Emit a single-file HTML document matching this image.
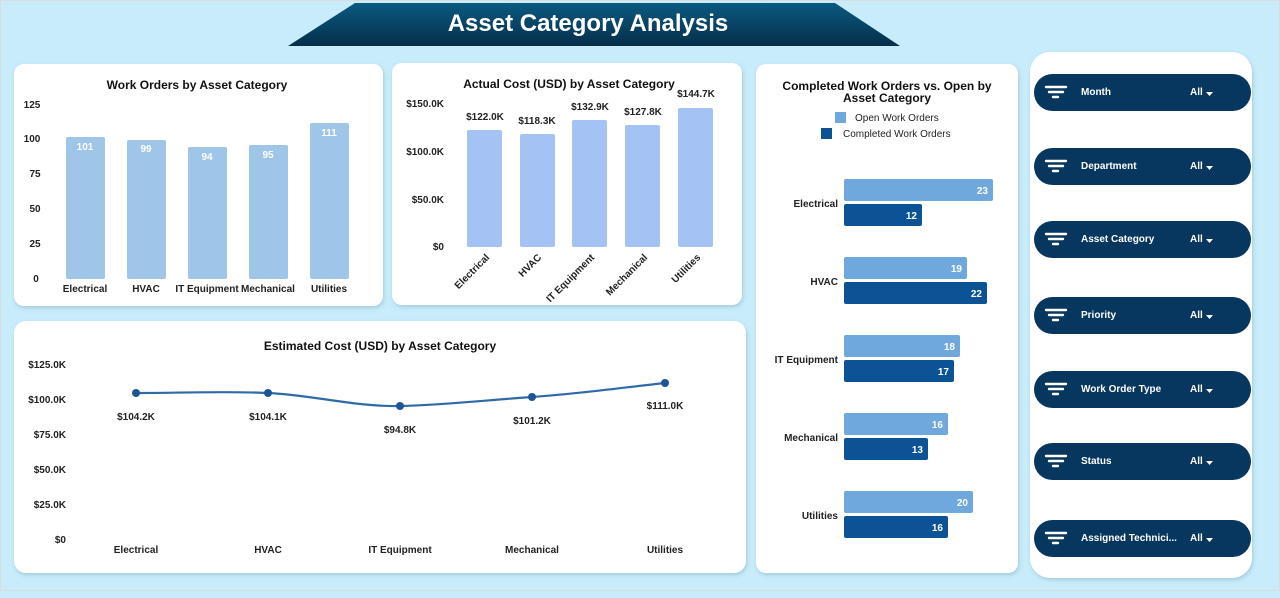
<!DOCTYPE html>
<html><head><meta charset="utf-8"><style>
html,body{margin:0;padding:0;width:1280px;height:598px;overflow:hidden;background:#c8ecfa;}
svg{display:block;font-family:"Liberation Sans",Arial,sans-serif;}
</style></head><body>
<svg width="1280" height="598" viewBox="0 0 1280 598" xmlns="http://www.w3.org/2000/svg">
<defs>
<linearGradient id="tg" x1="0" y1="0" x2="0" y2="1"><stop offset="0" stop-color="#0b5a80"/><stop offset="1" stop-color="#052f4a"/></linearGradient>
<filter id="sh" x="-5%" y="-5%" width="110%" height="110%"><feDropShadow dx="1" dy="2" stdDeviation="2" flood-color="#7fa9bd" flood-opacity="0.5"/></filter>
</defs>
<rect x="0" y="0" width="1280" height="598" fill="#c8ecfa"/>
<rect x="0.5" y="0.5" width="1279" height="590" fill="none" stroke="#d9dde0"/>
<polygon points="355,3 835,3 900,46 288,46" fill="url(#tg)"/>
<text x="588" y="31" text-anchor="middle" font-size="24" font-weight="bold" fill="#fff">Asset Category Analysis</text>

<g filter="url(#sh)" fill="#fff">
<rect x="14" y="64" width="369" height="242" rx="10"/>
<rect x="392" y="63" width="350" height="242" rx="10"/>
<rect x="14" y="321" width="732" height="252" rx="12"/>
<rect x="756" y="64" width="262" height="509" rx="10"/>
<rect x="1030" y="52" width="222" height="526" rx="20"/>
</g>

<!-- Card1 -->
<text x="197" y="89" text-anchor="middle" font-size="12" font-weight="bold" fill="#111">Work Orders by Asset Category</text>
<g font-size="10" font-weight="bold" fill="#222" text-anchor="middle">
<text x="32" y="108">125</text><text x="32" y="142">100</text><text x="35" y="177">75</text><text x="35" y="212">50</text><text x="35" y="247">25</text><text x="36" y="282">0</text>
</g>
<g fill="#9fc5e8">
<rect x="66" y="137" width="39" height="142" rx="2"/>
<rect x="127" y="140" width="39" height="139" rx="2"/>
<rect x="188" y="147" width="39" height="132" rx="2"/>
<rect x="249" y="145" width="39" height="134" rx="2"/>
<rect x="310" y="123" width="39" height="156" rx="2"/>
</g>
<g font-size="10" font-weight="bold" fill="#fff" text-anchor="middle">
<text x="85" y="150">101</text><text x="146" y="152">99</text><text x="207" y="160">94</text><text x="268" y="158">95</text><text x="329" y="136">111</text>
</g>
<g font-size="10" font-weight="bold" fill="#222" text-anchor="middle">
<text x="85" y="292">Electrical</text><text x="146" y="292">HVAC</text><text x="207" y="292">IT Equipment</text><text x="268" y="292">Mechanical</text><text x="329" y="292">Utilities</text>
</g>

<!-- Card2 -->
<text x="569" y="88" text-anchor="middle" font-size="12" font-weight="bold" fill="#111">Actual Cost (USD) by Asset Category</text>
<g font-size="10" font-weight="bold" fill="#222" text-anchor="end">
<text x="444" y="107">$150.0K</text><text x="444" y="155">$100.0K</text><text x="444" y="203">$50.0K</text><text x="444" y="250">$0</text>
</g>
<g fill="#a4c2f4">
<rect x="467" y="130" width="35" height="117" rx="2"/>
<rect x="520" y="134" width="35" height="113" rx="2"/>
<rect x="572" y="120" width="35" height="127" rx="2"/>
<rect x="625" y="125" width="35" height="122" rx="2"/>
<rect x="678" y="108" width="35" height="139" rx="2"/>
</g>
<g font-size="10" font-weight="bold" fill="#222" text-anchor="middle">
<text x="485" y="120">$122.0K</text><text x="537" y="124">$118.3K</text><text x="590" y="110">$132.9K</text><text x="643" y="115">$127.8K</text><text x="696" y="97">$144.7K</text>
</g>
<g font-size="10" font-weight="bold" fill="#222" text-anchor="end">
<text transform="translate(490,258) rotate(-45)">Electrical</text>
<text transform="translate(542,258) rotate(-45)">HVAC</text>
<text transform="translate(595,258) rotate(-45)">IT Equipment</text>
<text transform="translate(648,258) rotate(-45)">Mechanical</text>
<text transform="translate(701,258) rotate(-45)">Utilities</text>
</g>

<!-- Card3 -->
<text x="380" y="350" text-anchor="middle" font-size="12" font-weight="bold" fill="#111">Estimated Cost (USD) by Asset Category</text>
<g font-size="10" font-weight="bold" fill="#222" text-anchor="end">
<text x="66" y="368">$125.0K</text><text x="66" y="403">$100.0K</text><text x="66" y="438">$75.0K</text><text x="66" y="473">$50.0K</text><text x="66" y="508">$25.0K</text><text x="66" y="543">$0</text>
</g>
<path d="M136,393 C180,393 224,391 268,393 C312,395 356,407 400,406 C444,405 488,400 532,397 C576,394 620,388 665,383" fill="none" stroke="#2f6aa8" stroke-width="2.2"/>
<g fill="#1f5496">
<circle cx="136" cy="393" r="4"/><circle cx="268" cy="393" r="4"/><circle cx="400" cy="406" r="4"/><circle cx="532" cy="397" r="4"/><circle cx="665" cy="383" r="4"/>
</g>
<g font-size="10" font-weight="bold" fill="#222" text-anchor="middle">
<text x="136" y="420">$104.2K</text><text x="268" y="420">$104.1K</text><text x="400" y="433">$94.8K</text><text x="532" y="424">$101.2K</text><text x="665" y="409">$111.0K</text>
<text x="136" y="553">Electrical</text><text x="268" y="553">HVAC</text><text x="400" y="553">IT Equipment</text><text x="532" y="553">Mechanical</text><text x="665" y="553">Utilities</text>
</g>

<!-- Card4 -->
<g font-size="12" font-weight="bold" fill="#111" text-anchor="middle">
<text x="887" y="90">Completed Work Orders vs. Open by</text><text x="887" y="102">Asset Category</text>
</g>
<rect x="835" y="112" width="11" height="11" fill="#6fa8dc"/>
<rect x="821" y="128" width="11" height="11" fill="#0b5394"/>
<g font-size="10" fill="#222"><text x="855" y="121">Open Work Orders</text><text x="843" y="137">Completed Work Orders</text></g>
<g fill="#6fa8dc">
<rect x="844" y="179" width="149" height="22" rx="2"/>
<rect x="844" y="257" width="123" height="22" rx="2"/>
<rect x="844" y="335" width="116" height="22" rx="2"/>
<rect x="844" y="413" width="104" height="22" rx="2"/>
<rect x="844" y="491" width="129" height="22" rx="2"/>
</g>
<g fill="#0b5394">
<rect x="844" y="204" width="78" height="22" rx="2"/>
<rect x="844" y="282" width="143" height="22" rx="2"/>
<rect x="844" y="360" width="110" height="22" rx="2"/>
<rect x="844" y="438" width="84" height="22" rx="2"/>
<rect x="844" y="516" width="104" height="22" rx="2"/>
</g>
<g font-size="10" font-weight="bold" fill="#fff" text-anchor="end">
<text x="988" y="194">23</text><text x="917" y="219">12</text>
<text x="962" y="272">19</text><text x="982" y="297">22</text>
<text x="955" y="350">18</text><text x="949" y="375">17</text>
<text x="943" y="428">16</text><text x="923" y="453">13</text>
<text x="968" y="506">20</text><text x="943" y="531">16</text>
</g>
<g font-size="10" font-weight="bold" fill="#222" text-anchor="end">
<text x="838" y="207">Electrical</text><text x="838" y="285">HVAC</text><text x="838" y="363">IT Equipment</text><text x="838" y="441">Mechanical</text><text x="838" y="519">Utilities</text>
</g>

<!-- Slicers -->
<g font-size="10" font-weight="bold" fill="#fff">
<g transform="translate(0,92)"><rect x="1034" y="-18" width="217" height="37" rx="18.5" fill="#07365e"/><path d="M1046,-5H1066M1049,0H1063M1053,5H1058" stroke="#fff" stroke-width="2.4" stroke-linecap="round"/><text x="1081" y="3">Month</text><text x="1190" y="3">All</text><polygon points="1206,0 1213,0 1209.5,4" fill="#fff"/></g>
<g transform="translate(0,166)"><rect x="1034" y="-18" width="217" height="37" rx="18.5" fill="#07365e"/><path d="M1046,-5H1066M1049,0H1063M1053,5H1058" stroke="#fff" stroke-width="2.4" stroke-linecap="round"/><text x="1081" y="3">Department</text><text x="1190" y="3">All</text><polygon points="1206,0 1213,0 1209.5,4" fill="#fff"/></g>
<g transform="translate(0,239)"><rect x="1034" y="-18" width="217" height="37" rx="18.5" fill="#07365e"/><path d="M1046,-5H1066M1049,0H1063M1053,5H1058" stroke="#fff" stroke-width="2.4" stroke-linecap="round"/><text x="1081" y="3">Asset Category</text><text x="1190" y="3">All</text><polygon points="1206,0 1213,0 1209.5,4" fill="#fff"/></g>
<g transform="translate(0,315)"><rect x="1034" y="-18" width="217" height="37" rx="18.5" fill="#07365e"/><path d="M1046,-5H1066M1049,0H1063M1053,5H1058" stroke="#fff" stroke-width="2.4" stroke-linecap="round"/><text x="1081" y="3">Priority</text><text x="1190" y="3">All</text><polygon points="1206,0 1213,0 1209.5,4" fill="#fff"/></g>
<g transform="translate(0,389)"><rect x="1034" y="-18" width="217" height="37" rx="18.5" fill="#07365e"/><path d="M1046,-5H1066M1049,0H1063M1053,5H1058" stroke="#fff" stroke-width="2.4" stroke-linecap="round"/><text x="1081" y="3">Work Order Type</text><text x="1190" y="3">All</text><polygon points="1206,0 1213,0 1209.5,4" fill="#fff"/></g>
<g transform="translate(0,461)"><rect x="1034" y="-18" width="217" height="37" rx="18.5" fill="#07365e"/><path d="M1046,-5H1066M1049,0H1063M1053,5H1058" stroke="#fff" stroke-width="2.4" stroke-linecap="round"/><text x="1081" y="3">Status</text><text x="1190" y="3">All</text><polygon points="1206,0 1213,0 1209.5,4" fill="#fff"/></g>
<g transform="translate(0,538)"><rect x="1034" y="-18" width="217" height="37" rx="18.5" fill="#07365e"/><path d="M1046,-5H1066M1049,0H1063M1053,5H1058" stroke="#fff" stroke-width="2.4" stroke-linecap="round"/><text x="1081" y="3">Assigned Technici...</text><text x="1190" y="3">All</text><polygon points="1206,0 1213,0 1209.5,4" fill="#fff"/></g>
</g>
</svg>
</body></html>
